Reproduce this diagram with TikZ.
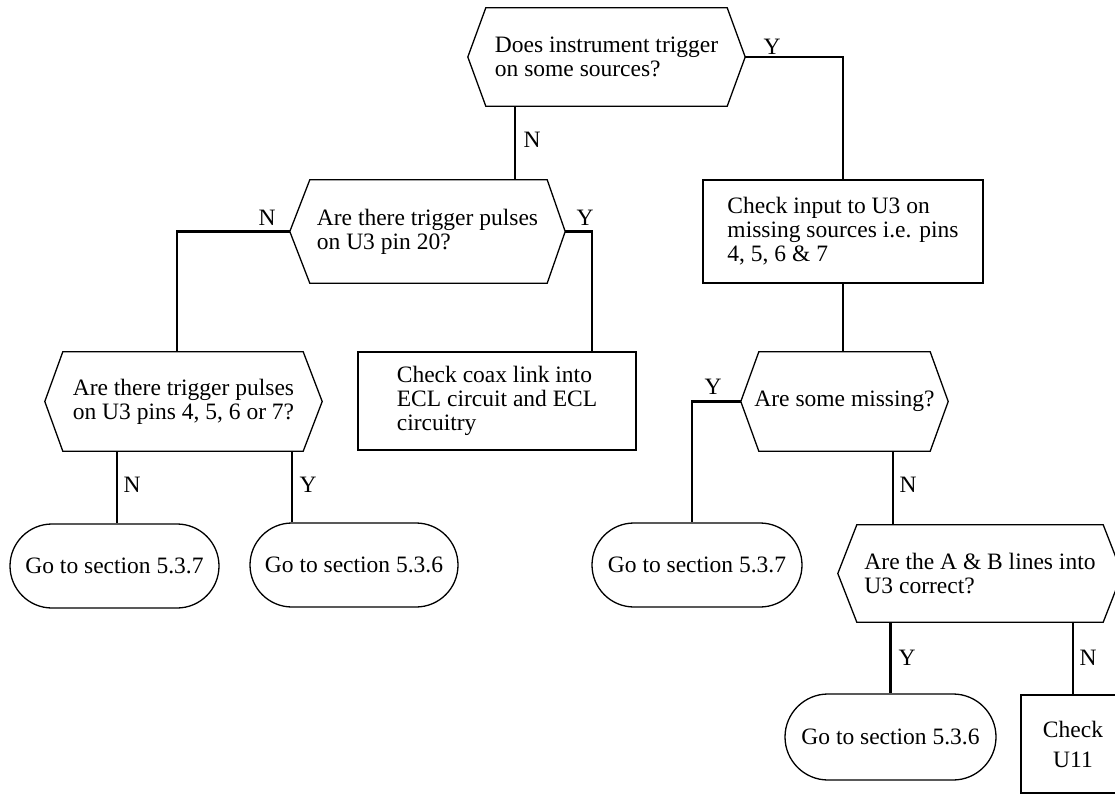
\documentclass[tikz,border=0pt]{standalone}
\usepackage{fontspec}
\setmainfont{Liberation Serif}
\usetikzlibrary{calc}
\newcommand\hexdraw[3]{\draw[outline] (#1.west) -- ([xshift=#2]#1.north west) -- ([xshift=-#3]#1.north east) -- (#1.east) -- ([xshift=-#3]#1.south east) -- ([xshift=#2]#1.south west) -- cycle;}
\begin{document}
\begin{tikzpicture}[x=1pt,y=-1pt,
  every node/.style={font=\fontsize{23.5}{24}\selectfont},
  outline/.style={line width=1.3pt, line join=miter},
  box/.style={draw, outline, inner sep=0pt, align=left},
  dec/.style={inner sep=0pt, align=left},
  term/.style={draw, outline, inner sep=0pt, rounded corners=42pt},
  conn/.style={line width=2.8pt},
  lbl/.style={inner sep=0pt},
]
\useasboundingbox (0,0) rectangle (1115,794);
\clip (0,0) rectangle (1115,794);

% decisions
\node[dec, minimum width=277pt, minimum height=98pt] (D1) at (606.5,57) {Does instrument trigger\\on some sources?};
\hexdraw{D1}{18pt}{18pt}
\node[dec, minimum width=275pt, minimum height=103pt] (D2) at (427.5,231.5) {Are there trigger pulses\\on U3 pin 20?};
\hexdraw{D2}{20pt}{18pt}
\node[dec, minimum width=277pt, minimum height=99pt] (D3) at (183.5,401.5) {Are there trigger pulses\\on U3 pins 4, 5, 6 or 7?};
\hexdraw{D3}{18pt}{19pt}
\node[dec, minimum width=207pt, minimum height=99pt] (D4) at (844.5,401.5) {Are some missing?};
\hexdraw{D4}{18pt}{18pt}
\node[dec, minimum width=284pt, minimum height=97pt] (D5) at (980,573.5) {Are the A \& B lines into\\U3 correct?};
\hexdraw{D5}{19pt}{19pt}

% process boxes
\node[box, minimum width=280pt, minimum height=103pt] (B1) at (843,231.5) {Check input to U3 on\\missing sources i.e. pins\\4, 5, 6 \& 7};
\node[box, minimum width=278pt, minimum height=98pt] (B2) at (497,401) {Check coax link into\\ECL circuit and ECL\\circuitry};
\node[box, align=center, minimum width=104pt, minimum height=98pt] (B3) at (1073,744) {Check\\[6pt]U11};

% terminals
\node[term, minimum width=209pt, minimum height=84pt] (T1) at (114.5,566) {Go to section 5.3.7};
\node[term, minimum width=208pt, minimum height=84pt] (T2) at (354,565) {Go to section 5.3.6};
\node[term, minimum width=210pt, minimum height=84pt] (T3) at (697,565) {Go to section 5.3.7};
\node[term, rounded corners=43pt, minimum width=211pt, minimum height=86pt] (T4) at (890.5,737) {Go to section 5.3.6};

% connectors
\draw[conn] (D1.east) -| (B1.north);
\draw[conn] ([xshift=-91.5pt]D1.south) -- ([xshift=-91.5pt]D1.south |- D2.north);
\draw[conn] (D2.west) -| ([xshift=-6.5pt]D3.north);
\draw[conn] (D2.east) -| ([xshift=95pt]B2.north);
\draw[conn] ([xshift=2.5pt]T1.north |- D3.south) -- ([xshift=2.5pt]T1.north);
\draw[conn] ([xshift=-62pt]T2.north |- D3.south) -- ([xshift=-62pt]T2.north);
\draw[conn] (B1.south) -- (B1.south |- D4.north);
\draw[conn] (D4.west) -| ([xshift=-5pt]T3.north);
\draw[conn] ([xshift=48.5pt]D4.south) -- ([xshift=48.5pt]D4.south |- D5.north);
\draw[conn] (T4.north |- D5.south) -- (T4.north);
\draw[conn] (B3.north |- D5.south) -- (B3.north);

% labels
\node[lbl] (l1) at (772,47) {Y};
\node[lbl] (l2) at (532,140) {N};
\node[lbl] (l3) at (267,218) {N};
\node[lbl] (l4) at (585,218) {Y};
\node[lbl] (l5) at (132,485) {N};
\node[lbl] (l6) at (308,485) {Y};
\node[lbl] (l7) at (713,387) {Y};
\node[lbl] (l8) at (908,485) {N};
\node[lbl] (l9) at (907,658) {Y};
\node[lbl] (l10) at (1088,658) {N};
\end{tikzpicture}
\end{document}
